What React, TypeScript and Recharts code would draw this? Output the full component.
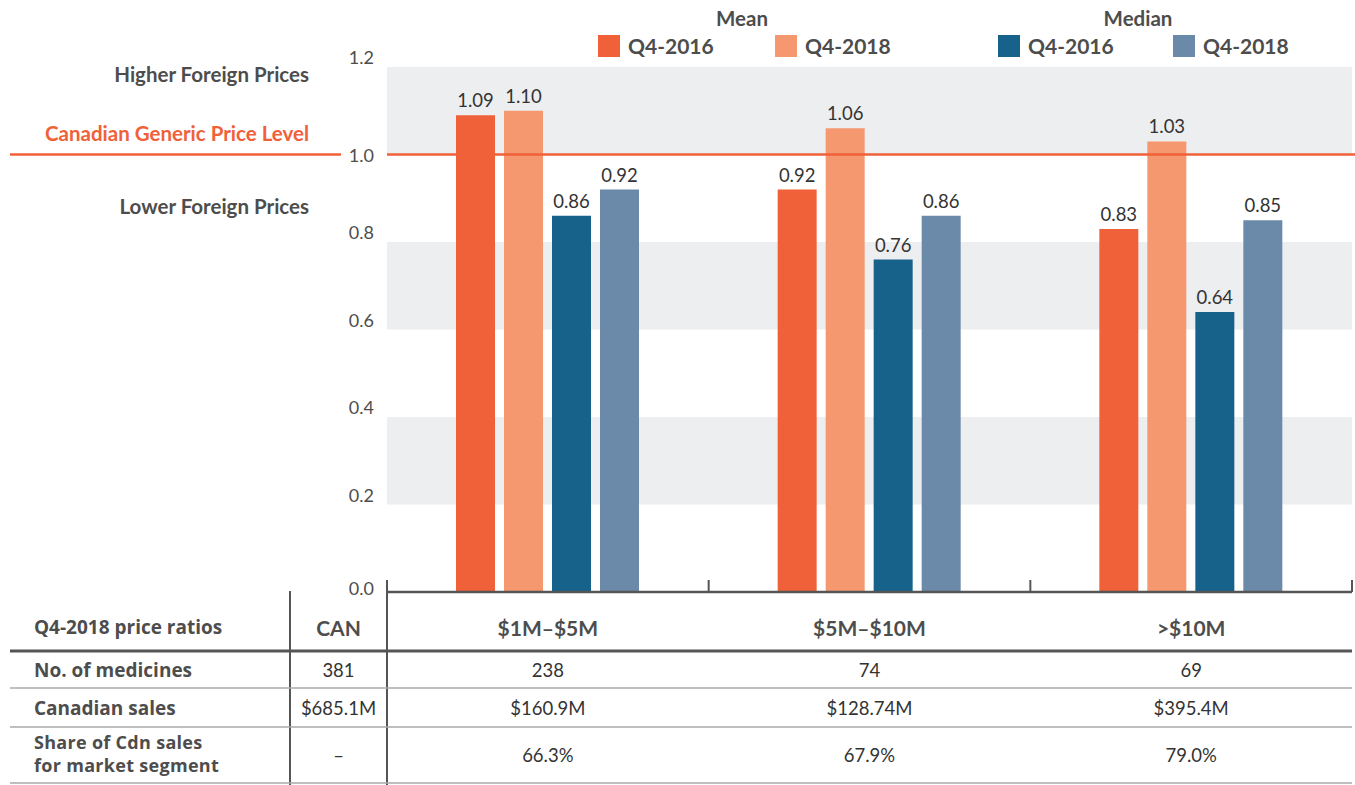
import React from "react";
import {
  BarChart,
  Bar,
  XAxis,
  YAxis,
  ReferenceArea,
  ReferenceLine,
  LabelList,
} from "recharts";

const categories = ["$1M–$5M", "$5M–$10M", ">$10M"];
const meanQ42016 = [1.09, 0.92, 0.83];
const meanQ42018 = [1.1, 1.06, 1.03];
const medianQ42016 = [0.86, 0.76, 0.64];
const medianQ42018 = [0.92, 0.86, 0.85];
const yTicks = [0, 0.2, 0.4, 0.6, 0.8, 1.0, 1.2];
const grayBands = [
  [1.0, 1.2],
  [0.6, 0.8],
  [0.2, 0.4],
];

const tableTitle = "Q4-2018 price ratios";
const canHeader = "CAN";
const rowLabels = ["No. of medicines", "Canadian sales", "Share of Cdn sales\nfor market segment"];
const canColumn = ["381", "$685.1M", "–"];
const medicineCounts = ["238", "74", "69"];
const canadianSales = ["$160.9M", "$128.74M", "$395.4M"];
const salesShares = ["66.3%", "67.9%", "79.0%"];

const series = [
  { key: "mean16", name: "Q4-2016", group: "Mean", color: "#F0613A", values: meanQ42016 },
  { key: "mean18", name: "Q4-2018", group: "Mean", color: "#F5976F", values: meanQ42018 },
  { key: "median16", name: "Q4-2016", group: "Median", color: "#16628B", values: medianQ42016 },
  { key: "median18", name: "Q4-2018", group: "Median", color: "#6B89A8", values: medianQ42018 },
];

const data = categories.map((category, i) => {
  const row: Record<string, string | number> = { category };
  series.forEach((s) => (row[s.key] = s.values[i]));
  return row;
});

const W = 1355;
const H = 785;
const PLOT_LEFT = 387;
const PLOT_RIGHT = 1352;
const PLOT_TOP = 67;
const PLOT_BOTTOM = 592;
const FONT = "Lato, 'Open Sans', sans-serif";
const WIDE = "'Open Sans', Lato, sans-serif";
const TEXT = "#4D4D4D";
const ORANGE = "#F0613A";

function YTick({ x, y, payload }: any) {
  const v = payload.value;
  const dy = v === 1 ? 0 : v === 0 ? -4 : -10;
  return (
    <text
      x={x}
      y={y + dy}
      textAnchor="end"
      dominantBaseline="central"
      fontSize={18}
      fill={TEXT}
      fontFamily={FONT}
    >
      {v.toFixed(1)}
    </text>
  );
}

function PriceLevelLine(props: any) {
  const { x1, y1, x2 } = props;
  const labelStyle = { fontSize: 20.5, fontWeight: 700, fontFamily: FONT };
  return (
    <g>
      <line x1={10} x2={341} y1={y1} y2={y1} stroke={ORANGE} strokeWidth={2.5} />
      <line x1={x1} x2={Math.max(x2, W)} y1={y1} y2={y1} stroke={ORANGE} strokeWidth={2.5} />
      <text x={309} y={y1 - 81} textAnchor="end" dominantBaseline="central" fill={TEXT} {...labelStyle}>
        Higher Foreign Prices
      </text>
      <text x={309} y={y1 - 22} textAnchor="end" dominantBaseline="central" fill={ORANGE} {...labelStyle}>
        Canadian Generic Price Level
      </text>
      <text x={309} y={y1 + 51} textAnchor="end" dominantBaseline="central" fill={TEXT} {...labelStyle}>
        Lower Foreign Prices
      </text>
    </g>
  );
}

const legendSpots = [598, 775, 998, 1173];
const groupCenters: Record<string, number> = { Mean: 742, Median: 1138 };

function LegendBlock() {
  const groups = Array.from(new Set(series.map((s) => s.group)));
  return (
    <div style={{ position: "absolute", left: 0, top: 0, width: W, height: 60, fontFamily: FONT, fontWeight: 700, color: TEXT }}>
      {groups.map((g) => (
        <div
          key={g}
          style={{
            position: "absolute",
            left: groupCenters[g] - 60,
            width: 120,
            top: 6,
            textAlign: "center",
            fontSize: 20.5,
            lineHeight: "24px",
          }}
        >
          {g}
        </div>
      ))}
      {series.map((s, i) => (
        <div key={s.key} style={{ position: "absolute", left: legendSpots[i], top: 35, display: "flex", alignItems: "center" }}>
          <div style={{ width: 22, height: 22, background: s.color }} />
          <span style={{ marginLeft: 8, fontSize: 21, lineHeight: "22px" }}>{s.name}</span>
        </div>
      ))}
    </div>
  );
}

function Table() {
  const band = (PLOT_RIGHT - PLOT_LEFT) / categories.length;
  const centers = categories.map((_, i) => PLOT_LEFT + band * (i + 0.5));
  const rowTops = [651, 688, 727];
  const rowBottoms = [688, 727, 783];
  const segmentRows = [medicineCounts, canadianSales, salesShares];
  const canX = (290 + PLOT_LEFT) / 2;
  return (
    <svg width={W} height={H} style={{ position: "absolute", left: 0, top: 0, pointerEvents: "none" }} fontFamily={FONT}>
      <line x1={PLOT_LEFT} x2={PLOT_RIGHT} y1={PLOT_BOTTOM} y2={PLOT_BOTTOM} stroke="#555" strokeWidth={2.5} />
      {categories.map((_, i) => (
        <line
          key={i}
          x1={PLOT_LEFT + band * (i + 1)}
          x2={PLOT_LEFT + band * (i + 1)}
          y1={PLOT_BOTTOM - 12}
          y2={PLOT_BOTTOM}
          stroke="#555"
          strokeWidth={2}
        />
      ))}
      <line x1={PLOT_LEFT} x2={PLOT_LEFT} y1={PLOT_BOTTOM - 12} y2={H} stroke="#555" strokeWidth={2} />
      <line x1={290} x2={290} y1={591} y2={H} stroke="#555" strokeWidth={2} />
      <line x1={10} x2={PLOT_RIGHT} y1={651} y2={651} stroke="#555" strokeWidth={3} />
      {rowBottoms.map((y) => (
        <line key={y} x1={10} x2={PLOT_RIGHT} y1={y} y2={y} stroke="#AAAAAA" strokeWidth={1.5} />
      ))}
      <text x={34} y={627} dominantBaseline="central" fontSize={19} fontWeight={700} fill={TEXT} fontFamily={WIDE}>
        {tableTitle}
      </text>
      <text x={canX} y={627} textAnchor="middle" dominantBaseline="central" fontSize={21} fontWeight={700} fill={TEXT}>
        {canHeader}
      </text>
      {categories.map((c, i) => (
        <text key={c} x={centers[i]} y={627} textAnchor="middle" dominantBaseline="central" fontSize={21} fontWeight={700} fill={TEXT}>
          {c}
        </text>
      ))}
      {rowLabels.map((label, r) => {
        const mid = (rowTops[r] + rowBottoms[r]) / 2;
        const lines = label.split("\n");
        const multi = lines.length > 1;
        const step = 23;
        return (
          <g key={label}>
            {lines.map((ln, k) => (
              <text
                key={ln}
                x={34}
                y={mid + (k - (lines.length - 1) / 2) * step - (multi ? 2 : 0)}
                dominantBaseline="central"
                fontSize={multi ? 18 : 19}
                letterSpacing={multi ? 0.3 : 0}
                fontWeight={700}
                fill={TEXT}
                fontFamily={WIDE}
              >
                {ln}
              </text>
            ))}
            <text x={canX} y={mid} textAnchor="middle" dominantBaseline="central" fontSize={18.5} fill="#333">
              {canColumn[r]}
            </text>
            {segmentRows[r].map((v, i) => (
              <text key={i} x={centers[i]} y={mid} textAnchor="middle" dominantBaseline="central" fontSize={18.5} fill="#333">
                {v}
              </text>
            ))}
          </g>
        );
      })}
    </svg>
  );
}

export default function App() {
  return (
    <div style={{ position: "absolute", left: 0, top: 0, width: W, height: H, background: "#fff" }}>
      <BarChart
        width={W}
        height={H}
        data={data}
        margin={{ top: PLOT_TOP, right: W - PLOT_RIGHT, left: 0, bottom: H - PLOT_BOTTOM }}
        barSize={39}
        barGap={9}
      >
        {grayBands.map(([lo, hi]) => (
          <ReferenceArea key={lo} y1={lo} y2={hi} fill="#EDEEF0" fillOpacity={1} stroke="none" />
        ))}
        <XAxis dataKey="category" hide />
        <YAxis
          width={PLOT_LEFT}
          domain={[0, 1.2]}
          ticks={yTicks}
          axisLine={false}
          tickLine={false}
          tickSize={0}
          tickMargin={13}
          tick={<YTick />}
          interval={0}
        />
        <ReferenceLine y={1} shape={(p: any) => <PriceLevelLine {...p} />} />
        {series.map((s) => (
          <Bar key={s.key} dataKey={s.key} name={s.name} fill={s.color} isAnimationActive={false}>
            <LabelList
              dataKey={s.key}
              position="top"
              offset={8}
              formatter={(v: any) => Number(v).toFixed(2)}
              fill="#333"
              fontSize={18.5}
              fontFamily={FONT}
            />
          </Bar>
        ))}
      </BarChart>
      <LegendBlock />
      <Table />
    </div>
  );
}
